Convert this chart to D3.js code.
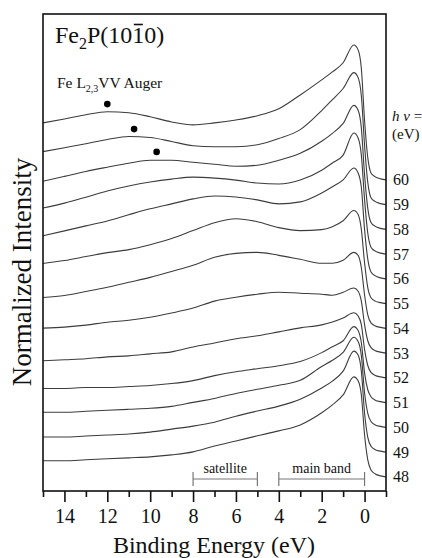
<!DOCTYPE html>
<html><head><meta charset="utf-8">
<script src="https://cdn.jsdelivr.net/npm/d3@7"></script>
<style>
html,body{margin:0;padding:0;background:#fff;}
svg text{font-family:"Liberation Serif","DejaVu Serif",serif;fill:#111;}
</style></head>
<body><svg id="c" width="422" height="558"></svg>
<script>
// Binding energies (eV) at which intensities were read
const energies = [15,14,13,12,11,10,9,8,7,6,5,4,3,2,1.5,1,0.5,0.3,0.15,0,-0.15,-0.3,-0.5,-0.75,-1];
// photon energies (eV)
const photonEnergies = [48,49,50,51,52,53,54,55,56,57,58,59,60];
// normalized intensities (arbitrary units, before offset)
const I48 = [0.65,0.65,0.69,0.73,0.77,0.81,0.89,1.01,1.25,1.45,1.66,1.86,2.10,2.59,2.91,3.31,4.04,3.88,3.31,1.70,0.69,0.28,0.12,0.04,0];
const I49 = [0.61,0.61,0.65,0.69,0.73,0.81,0.93,1.05,1.21,1.45,1.66,1.86,2.14,2.59,2.87,3.27,4.08,3.92,3.27,1.58,0.60,0.24,0.10,0.04,0];
const I50 = [0.61,0.61,0.65,0.69,0.73,0.77,0.85,1.01,1.17,1.37,1.54,1.70,1.90,2.46,2.71,3.03,3.64,3.47,2.90,1.40,0.57,0.24,0.10,0.04,0];
const I51 = [0.57,0.57,0.61,0.61,0.65,0.69,0.77,0.89,1.09,1.25,1.37,1.49,1.66,2.02,2.26,2.50,3.07,2.91,2.42,1.20,0.52,0.24,0.10,0.04,0];
const I52 = [0.69,0.73,0.77,0.85,0.89,0.97,1.05,1.25,1.41,1.58,1.70,1.86,2.02,2.14,2.26,2.42,2.63,2.50,2.15,1.15,0.50,0.22,0.10,0.04,0];
const I53 = [1.01,1.05,1.13,1.25,1.33,1.45,1.62,1.82,2.10,2.26,2.38,2.46,2.42,2.38,2.34,2.46,2.63,2.50,2.10,1.15,0.50,0.22,0.10,0.04,0];
const I54 = [1.25,1.33,1.49,1.66,1.86,2.06,2.30,2.55,2.87,3.03,3.07,2.95,2.79,2.63,2.63,2.75,3.07,2.95,2.45,1.35,0.55,0.22,0.10,0.04,0];
const I55 = [1.62,1.74,1.90,2.06,2.18,2.38,2.63,2.95,3.27,3.43,3.31,3.07,2.95,2.99,3.11,3.35,3.76,3.60,3.00,1.65,0.65,0.24,0.10,0.04,0];
const I56 = [1.74,1.94,2.14,2.34,2.59,2.83,3.03,3.23,3.35,3.31,3.19,3.03,3.11,3.47,3.72,4.00,4.48,4.28,3.70,2.00,0.80,0.28,0.12,0.04,0];
const I57 = [1.86,2.06,2.30,2.55,2.75,2.91,3.03,3.11,3.07,2.99,2.87,2.83,2.99,3.39,3.68,4.00,4.89,4.69,4.00,2.20,0.85,0.28,0.12,0.04,0];
const I58 = [1.94,2.14,2.34,2.51,2.67,2.79,2.79,2.71,2.63,2.55,2.59,2.79,3.07,3.56,3.88,4.28,5.01,4.81,4.10,2.20,0.85,0.28,0.12,0.04,0];
const I59 = [2.14,2.30,2.46,2.63,2.75,2.71,2.55,2.38,2.34,2.34,2.42,2.67,3.03,3.80,4.24,4.69,5.33,5.13,4.40,2.40,0.90,0.28,0.12,0.04,0];
const I60 = [2.30,2.46,2.63,2.75,2.71,2.55,2.34,2.22,2.30,2.42,2.59,2.87,3.43,4.04,4.36,4.73,5.45,5.25,4.50,2.40,0.90,0.28,0.12,0.04,0];
const intensitySets = [I48,I49,I50,I51,I52,I53,I54,I55,I56,I57,I58,I59,I60];
// vertical offset of each spectrum (units)
const offsets = [0,1,2,3,4,5,6,7,8,9,10,11,12];
// Auger peak markers: binding energy and value incl. offset
const augerE = [12.0, 10.75, 9.7];
const augerY = [15.06, 14.05, 13.13];
// x-axis ticks
const majorTicks = [14,12,10,8,6,4,2,0];
const minorTicks = [15,13,11,9,7,5,3,1,-1];
// brackets
const bracketLabels = ["satellite","main band"];
const bracketFrom = [8,4];
const bracketTo = [5,0];

const FONT = "Liberation Serif";
const svg = d3.select("#c");
const L=43, R=386, T=14, B=491;
const x = d3.scaleLinear().domain([15,-1]).range([L,R]);
const y = d3.scaleLinear().domain([-0.57,18.7]).range([B,T]);

// spectra
const line = d3.line().x(d=>x(d[0])).y(d=>y(d[1])).curve(d3.curveMonotoneX);
const g = svg.append("g");
intensitySets.forEach((arr,i)=>{
  const pts = energies.map((e,k)=>[e, arr[k]+offsets[i]]);
  g.append("path").attr("d",line(pts)).attr("fill","none")
   .attr("stroke","#3c3c3c").attr("stroke-width",1.1).attr("stroke-linejoin","round");
});

// frame
svg.append("rect").attr("x",L).attr("y",T).attr("width",R-L).attr("height",B-T)
  .attr("fill","none").attr("stroke","#111").attr("stroke-width",1.6);

// x axis
const ax = svg.append("g").attr("transform",`translate(0,${B})`)
  .call(d3.axisBottom(x).tickValues(majorTicks).tickSize(11).tickSizeOuter(0).tickPadding(6.5).tickFormat(d3.format("d")));
ax.attr("font-family",FONT);
ax.select(".domain").remove();
ax.selectAll("line").attr("stroke","#111").attr("stroke-width",1.6);
ax.selectAll("text").attr("font-size",20).attr("fill","#111").attr("font-family",FONT);
const axm = svg.append("g").attr("transform",`translate(0,${B})`)
  .call(d3.axisBottom(x).tickValues(minorTicks).tickSize(6).tickSizeOuter(0).tickFormat(""));
axm.select(".domain").remove();
axm.selectAll("line").attr("stroke","#111").attr("stroke-width",1.6);

// axis titles
svg.append("text").attr("x",214).attr("y",553).attr("text-anchor","middle")
  .attr("font-family",FONT).attr("font-size",24).text("Binding Energy (eV)");
svg.append("text").attr("transform","translate(31,272) rotate(-90)").attr("text-anchor","middle")
  .attr("font-family",FONT).attr("font-size",27).text("Normalized Intensity");

// right labels
photonEnergies.forEach((h,i)=>{
  svg.append("text").attr("x",393).attr("y",y(offsets[i])+5.5).attr("font-family",FONT).attr("font-size",16).text(h);
});
const hv = svg.append("text").attr("x",392).attr("y",121).attr("font-family",FONT).attr("font-size",15);
hv.append("tspan").attr("font-style","italic").text("h");
hv.append("tspan").attr("font-style","italic").text(" ν");
hv.append("tspan").text(" =");
svg.append("text").attr("x",392).attr("y",139).attr("font-family",FONT).attr("font-size",15).text("(eV)");

// title
const tt = svg.append("text").attr("x",55).attr("y",43).attr("font-family",FONT).attr("font-size",24);
tt.append("tspan").text("Fe");
tt.append("tspan").attr("font-size",16).attr("dy",6).text("2");
tt.append("tspan").attr("dy",-6).text("P(10");
tt.append("tspan").text("1");
tt.append("tspan").text("0)");
const ttn = tt.node();
const ox0 = ttn.getStartPositionOfChar(7).x, ox1 = ttn.getEndPositionOfChar(7).x;
svg.append("line").attr("x1",ox0+1.5).attr("x2",ox1-1.5).attr("y1",24.5).attr("y2",24.5)
  .attr("stroke","#111").attr("stroke-width",1.6);

// Auger label
const at = svg.append("text").attr("x",57).attr("y",88).attr("font-family",FONT).attr("font-size",15.5);
at.append("tspan").text("Fe L");
at.append("tspan").attr("font-size",10).attr("dy",4).text("2,3");
at.append("tspan").attr("dy",-4).text("VV Auger");
augerE.forEach((e,i)=>{
  svg.append("circle").attr("cx",x(e)).attr("cy",y(augerY[i])).attr("r",3.3).attr("fill","#000");
});

// brackets
bracketLabels.forEach((lab,i)=>{
  const x0=x(bracketFrom[i]), x1=x(bracketTo[i]), by=479;
  const bg = svg.append("g").attr("stroke","#777").attr("stroke-width",1.2);
  bg.append("line").attr("x1",x0).attr("x2",x1).attr("y1",by).attr("y2",by);
  bg.append("line").attr("x1",x0).attr("x2",x0).attr("y1",by-7).attr("y2",by+7);
  bg.append("line").attr("x1",x1).attr("x2",x1).attr("y1",by-7).attr("y2",by+7);
  svg.append("text").attr("x",(x0+x1)/2).attr("y",473).attr("text-anchor","middle")
    .attr("font-family",FONT).attr("font-size",14).attr("fill","#222").text(lab);
});
</script></body></html>
